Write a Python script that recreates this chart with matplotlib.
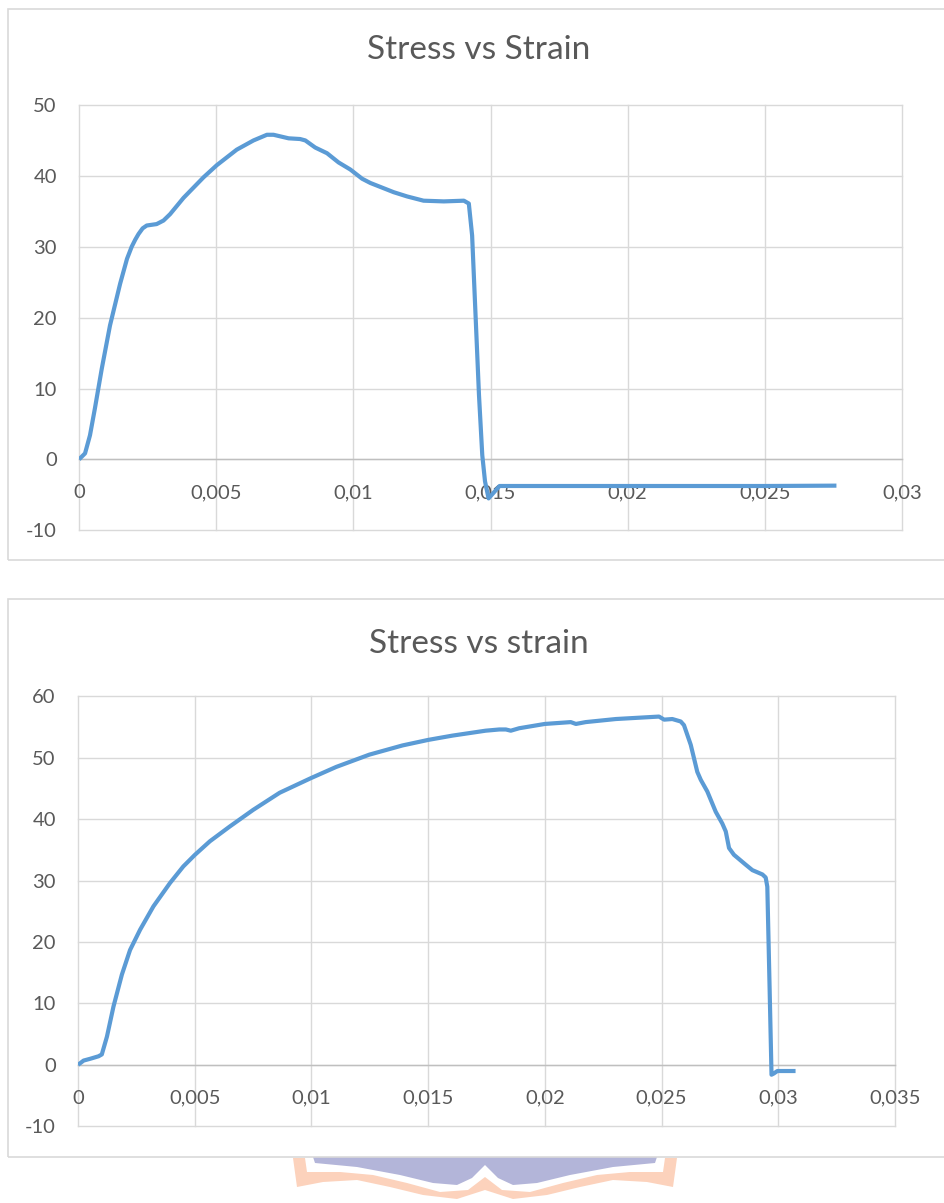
import matplotlib.pyplot as plt
from matplotlib.patches import Rectangle, Polygon

# Datos del primer ensayo (Stress vs Strain)
strain_1 = [0, 0.00022, 0.0004, 0.00058, 0.00083, 0.00113, 0.0015, 0.00175,
            0.00192, 0.00205, 0.00217, 0.00232, 0.00247, 0.00283, 0.00308,
            0.00332, 0.00381, 0.00454, 0.00502, 0.00575, 0.00636, 0.00685,
            0.00709, 0.00764, 0.00806, 0.00825, 0.00861, 0.00904, 0.00946,
            0.00989, 0.01032, 0.01062, 0.01147, 0.01196, 0.01256, 0.0133,
            0.01403, 0.01421, 0.01433, 0.01445, 0.01458, 0.0147, 0.0148,
            0.01493, 0.01533, 0.0200, 0.0250, 0.02761]
stress_1 = [0, 0.85, 3.4, 7.2, 12.8, 18.9, 24.8, 28.3, 30.0, 31.0, 31.8,
            32.6, 33.0, 33.2, 33.7, 34.6, 36.9, 39.8, 41.5, 43.7, 45.0, 45.8,
            45.8, 45.3, 45.2, 45.0, 44.0, 43.2, 41.9, 40.9, 39.6, 39.0, 37.7,
            37.1, 36.5, 36.4, 36.5, 36.1, 31.6, 20.8, 9.1, 0.6, -3.1, -5.5,
            -3.75, -3.75, -3.75, -3.7]

# Datos del segundo ensayo (Stress vs strain)
strain_2 = [0, 0.00024, 0.00053, 0.00088, 0.00102, 0.00124, 0.00152, 0.00188,
            0.00223, 0.00266, 0.00323, 0.00394, 0.00451, 0.00501, 0.00565,
            0.0065, 0.0075, 0.00864, 0.00999, 0.01106, 0.01248, 0.0139,
            0.015, 0.01604, 0.01746, 0.01805, 0.01833, 0.01854, 0.0189, 0.02,
            0.02111, 0.02133, 0.02175, 0.02304, 0.02489, 0.02511, 0.02546,
            0.02582, 0.02596, 0.02625, 0.02653, 0.02668, 0.02696, 0.02732,
            0.0276, 0.02775, 0.02789, 0.0281, 0.0286, 0.02889, 0.02932,
            0.02946, 0.02953, 0.02963, 0.02971, 0.02981, 0.02996, 0.03074]
stress_2 = [0, 0.7, 1.0, 1.4, 1.7, 4.6, 9.5, 14.7, 18.7, 22.0, 25.8, 29.6,
            32.3, 34.2, 36.4, 38.8, 41.5, 44.3, 46.7, 48.5, 50.5, 52.0, 52.9,
            53.6, 54.4, 54.6, 54.6, 54.4, 54.8, 55.5, 55.8, 55.5, 55.8, 56.3,
            56.7, 56.2, 56.3, 55.9, 55.3, 52.1, 47.7, 46.4, 44.5, 41.2, 39.3,
            38.0, 35.3, 34.2, 32.6, 31.7, 31.0, 30.5, 29.0, 12.2, -1.6, -1.4,
            -1.0, -1.0]

# Ejes
xticks_1 = [0, 0.005, 0.01, 0.015, 0.02, 0.025, 0.03]
xlabels_1 = ["0", "0,005", "0,01", "0,015", "0,02", "0,025", "0,03"]
yticks_1 = [-10, 0, 10, 20, 30, 40, 50]

xticks_2 = [0, 0.005, 0.01, 0.015, 0.02, 0.025, 0.03, 0.035]
xlabels_2 = ["0", "0,005", "0,01", "0,015", "0,02", "0,025", "0,03", "0,035"]
yticks_2 = [-10, 0, 10, 20, 30, 40, 50, 60]

titulo_1 = "Stress vs Strain"
titulo_2 = "Stress vs strain"

AZUL = "#5b9bd5"
GRIS_TEXTO = "#595959"
GRIS_GRID = "#d9d9d9"
FUENTE = "Lato"

W, H = 944, 1203
fig = plt.figure(figsize=(W / 100, H / 100), dpi=100)


def px(x0, y0, x1, y1):
    # caja en pixeles -> fracciones de figura
    return [x0 / W, 1 - y1 / H, (x1 - x0) / W, (y1 - y0) / H]


def grafica(rect, strain, stress, xticks, xlabels, yticks, titulo, title_y):
    ax = fig.add_axes(rect)
    ax.plot(strain, stress, color=AZUL, linewidth=3.0, zorder=3,
            solid_joinstyle="round", solid_capstyle="butt")
    ax.set_xlim(xticks[0], xticks[-1])
    ax.set_ylim(yticks[0], yticks[-1])
    ax.set_xticks(xticks)
    ax.set_xticklabels(xlabels)
    ax.set_yticks(yticks)
    ax.set_yticklabels([str(v) for v in yticks])
    for s in ["left", "right", "top"]:
        ax.spines[s].set_visible(False)
    ax.spines["bottom"].set_position(("data", 0))
    ax.spines["bottom"].set_color("#bfbfbf")
    ax.spines["bottom"].set_linewidth(1.0)
    ax.grid(True, color=GRIS_GRID, linewidth=1.0)
    for gl in ax.get_xgridlines() + ax.get_ygridlines():
        gl.set_clip_on(False)
    ax.tick_params(axis="both", length=0, labelsize=14.5, labelcolor=GRIS_TEXTO)
    ax.tick_params(axis="x", pad=18)
    ax.tick_params(axis="y", pad=16)
    for t in ax.get_xticklabels() + ax.get_yticklabels():
        t.set_fontfamily(FUENTE)
    ax.set_axisbelow(True)
    fig.text(479 / W, 1 - title_y / H, titulo, ha="center", va="center",
             fontsize=24, color=GRIS_TEXTO, fontfamily=FUENTE)
    return ax


# Logo de fondo (parcial, abajo)
morado = [(313, 1157), (657, 1157), (655, 1163), (613, 1167), (570, 1175),
          (537, 1183), (513, 1185), (498, 1178), (485, 1165), (472, 1178),
          (457, 1185), (433, 1183), (400, 1175), (357, 1167), (315, 1163)]
naranja = [(293, 1158), (305, 1158), (307, 1172), (340, 1172), (373, 1175),
           (407, 1183), (440, 1192), (468, 1190), (485, 1177), (502, 1190),
           (530, 1192), (563, 1183), (597, 1175), (630, 1172), (663, 1172),
           (665, 1158), (677, 1158), (673, 1187), (647, 1182), (613, 1180),
           (580, 1187), (547, 1195), (513, 1199), (485, 1190), (457, 1199),
           (423, 1195), (390, 1187), (357, 1180), (323, 1182), (297, 1187)]
for pts, col in [(morado, "#b3b5d9"), (naranja, "#fcd2bc")]:
    fig.patches.append(Polygon([(x / W, 1 - y / H) for x, y in pts],
                               closed=True, transform=fig.transFigure,
                               facecolor=col, edgecolor="none", zorder=0))

# Marcos de los graficos
for y0, y1 in [(9, 560), (598.5, 1156.5)]:
    fig.patches.append(Rectangle((8 / W, 1 - y1 / H), 1.0, (y1 - y0) / H,
                                 transform=fig.transFigure, fill=False,
                                 edgecolor=GRIS_GRID, linewidth=1.2, zorder=1))

grafica(px(79, 105, 902, 530.3), strain_1, stress_1, xticks_1, xlabels_1,
        yticks_1, titulo_1, 50)
grafica(px(78, 696.3, 895, 1126.3), strain_2, stress_2, xticks_2, xlabels_2,
        yticks_2, titulo_2, 644)

fig.savefig("out.png", dpi=100, facecolor="white")
